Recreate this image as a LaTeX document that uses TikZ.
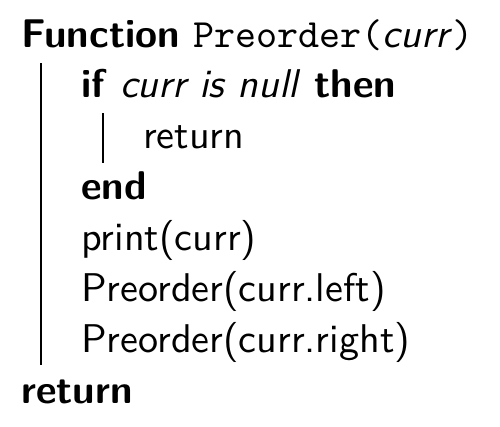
\documentclass[tikz,border=0pt]{standalone}
\usepackage{graphicx}
\newcommand{\codetext}[1]{\scalebox{4.01}{\fontsize{10}{12}\selectfont\sffamily #1}}
\begin{document}
\begin{tikzpicture}[x=1pt,y=-1pt,
  codeline/.style={anchor=base west,inner sep=0pt},
  bar/.style={line width=1.6pt}]
\useasboundingbox (0,0) rectangle (500,426);
\node[codeline] (l0) at (21,47) {\codetext{\textbf{Function} \texttt{Preorder(}\textit{curr}\texttt{)}}};
\node[codeline] (l1) at (81,97) {\codetext{\textbf{if} \textit{curr is null} \textbf{then}}};
\node[codeline] (l2) at (143,148) {\codetext{return}};
\node[codeline] (l3) at (81,199) {\codetext{\textbf{end}}};
\node[codeline] (l4) at (81,250) {\codetext{print(curr)}};
\node[codeline] (l5) at (81,301) {\codetext{Preorder(curr.left)}};
\node[codeline] (l6) at (81,352) {\codetext{Preorder(curr.right)}};
\node[codeline] (l7) at (21,403) {\codetext{\textbf{return}}};
\coordinate (a0) at (41,63);
\coordinate (a1) at (41,365);
\coordinate (b0) at (103,113);
\coordinate (b1) at (103,163);
\draw[bar] (a0) -- (a1);
\draw[bar] (b0) -- (b1);
\end{tikzpicture}
\end{document}
